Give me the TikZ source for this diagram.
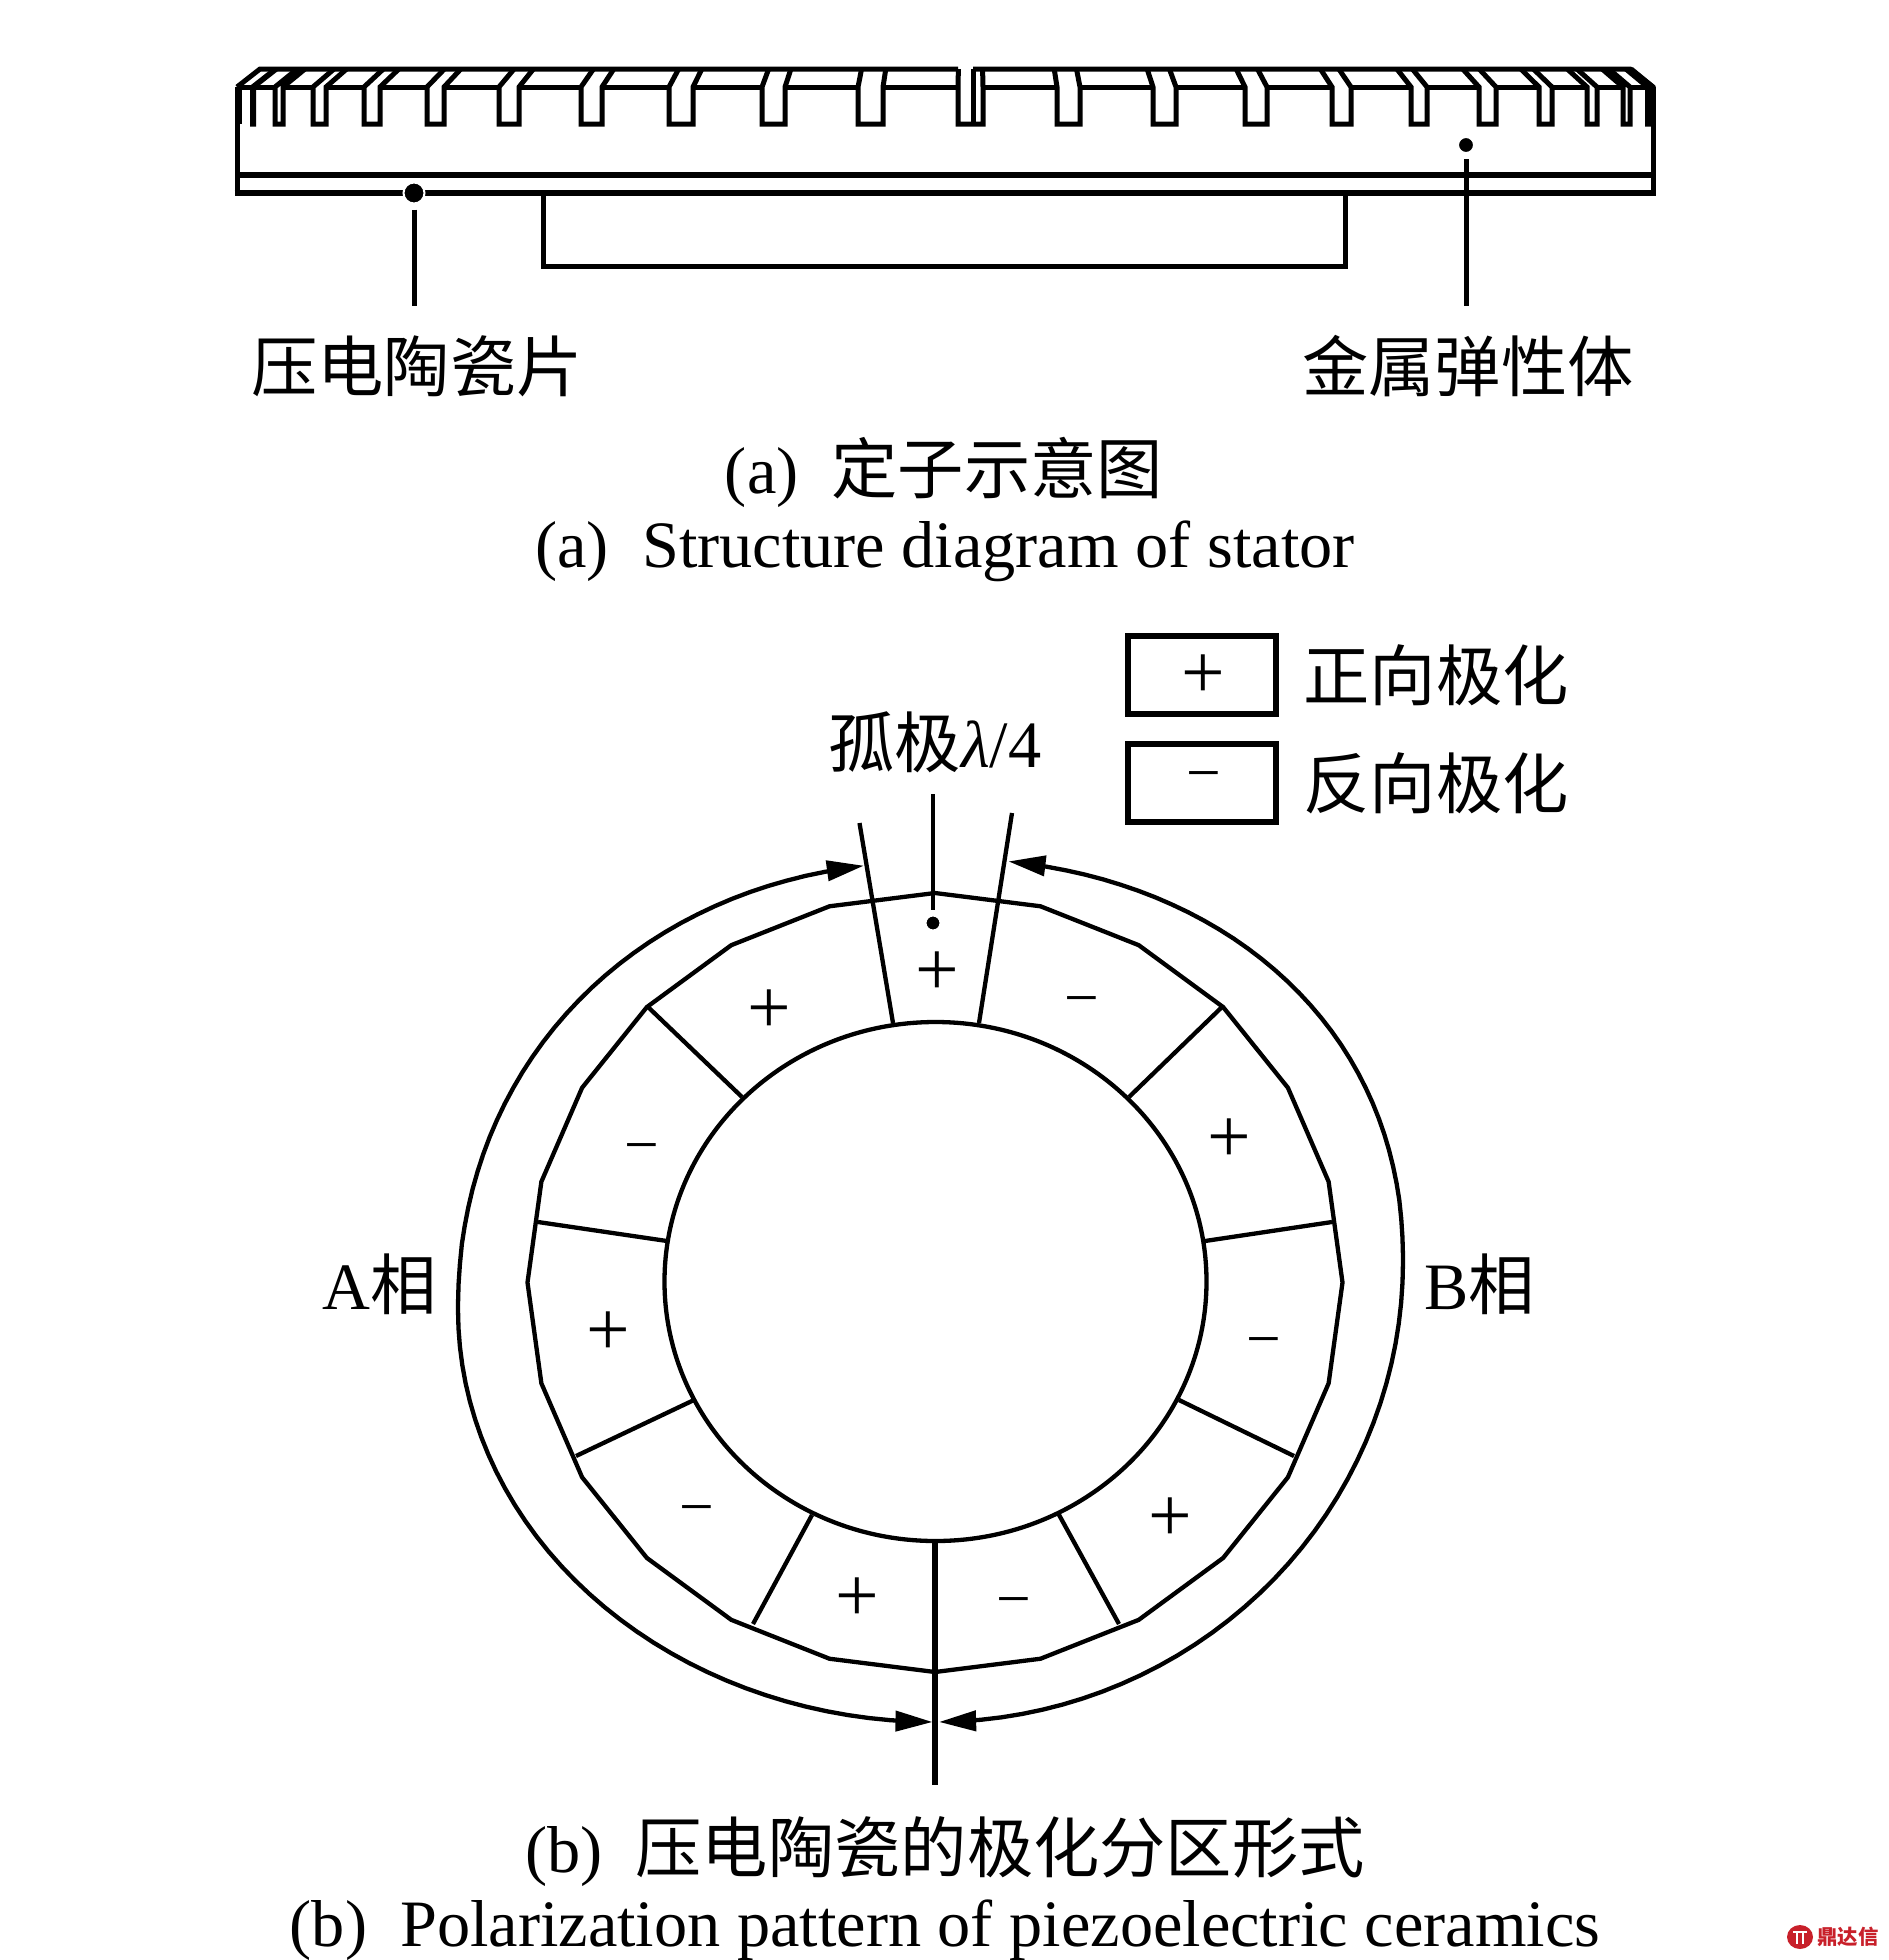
\documentclass[tikz,border=0pt]{standalone}
\usepackage{fontspec}
\usepackage{tikz}
\usetikzlibrary{calc}
\usetikzlibrary{arrows.meta}
\setmainfont{Liberation Serif}
\newfontfamily\cjk{Noto Sans CJK SC}
\newcommand{\cn}[1]{{\cjk #1}}
\definecolor{logored}{HTML}{C8202A}
\begin{document}
\begin{tikzpicture}[x=0.01cm,y=-0.01cm]

\def\lw{0.043cm}
\def\lwblk{0.05cm}
\def\lwbar{0.06cm}
\def\slant{0.032}
\def\xmid{970}

\tikzset{
thinline/.style = {color=black,line width=\lw},
blkline/.style = {color=black,line width=\lwblk},
barline/.style = {color=black,line width=\lwbar},
dimline/.style = {thinline,line join=round,{Triangle[length=0.37cm,width=0.2cm]}-{Triangle[length=0.37cm,width=0.2cm]}},
dot/.style = {circle,fill=black,draw=white,line width=0.02cm,inner sep=0pt},
label/.style = {inner sep=0pt,font=\fontsize{18.85}{20}\selectfont},
plussign/.style = {inner sep=0pt,anchor=base,font=\fontsize{22}{22}\selectfont},
minussign/.style = {inner sep=0pt,anchor=base,font=\fontsize{17.5}{18}\selectfont}
}

\useasboundingbox (0,0) rectangle (1889,1960);

% stator
\draw[blkline] (237,87) -- (1653,87);
\foreach \xa/\xb in {275/283,313/326,364/380,427/444,499/519,581/602,669/693,
762/785,858/883,958/983,1057/1080,1153/1176,1245/1267,1332/1351,1411/1427,1479/1496,
1539/1552,1587/1597,1623/1630}{
\pgfmathsetmacro{\ta}{\xa+\slant*(\xmid-\xa)}
\pgfmathsetmacro{\tb}{\xb+\slant*(\xmid-\xb)}
\filldraw[blkline,fill=white] (\ta,69) -- (\xa,87) -- (\xa,124) -- (\xb,124) -- (\xb,87) -- (\tb,69);
}
% the slots at both ends close up
\foreach \xa/\xb in {252.5/253.5,1647.5/1653}{
\pgfmathsetmacro{\ta}{\xa+\slant*(\xmid-\xa)}
\pgfmathsetmacro{\tb}{\xb+\slant*(\xmid-\xb)}
\filldraw[blkline,fill=black] (\ta,69) -- (\xa,87) -- (\xa,124) -- (\xb,124) -- (\xb,87) -- (\tb,69);
}
\draw[blkline] (239,87) -- (239,124);
\draw[blkline] (973,69) -- (973,124);
\draw[blkline] (237,87) -- (260,69) -- (958,69);
\draw[blkline] (973,69) -- (1630,69) -- (1653,87);
\draw[blkline] (237,87) -- (237,193);
\draw[blkline] (1653,87) -- (1653,193);
\draw[barline] (237,175) -- (1653,175);
\draw[barline] (234.5,193) -- (1655.5,193);
\draw[blkline] (543,193) -- (543,266) -- (1345,266) -- (1345,193);

\node[dot,minimum size=0.21cm] (ceramicdot) at (414,193) {};
\node[dot,minimum size=0.16cm] (metaldot) at (1466,145) {};
\coordinate (ceramicend) at (414,306);
\coordinate (metalend) at (1466,306);
\draw[blkline,shorten <=0.05cm] (ceramicdot) -- (ceramicend);
\draw[blkline,shorten <=0.05cm] (metaldot) -- (metalend);

\node[label] (ceramiclabel) at (417,366) {\cn{压电陶瓷片}};
\node[label] (metallabel) at (1468,366) {\cn{金属弹性体}};
\node[label] (capacn) at (944,472) {(a)\ \ \cn{定子示意图}};
\node[label] (capaen) at (945,551) {(a)\ \ Structure diagram of stator};

% legend
\node[draw,barline,minimum width=1.48cm,minimum height=0.78cm,inner sep=0pt] (plusbox) at (1202,675) {};
\node[draw,barline,minimum width=1.48cm,minimum height=0.78cm,inner sep=0pt] (minusbox) at (1202,783) {};
\node[plussign] (plusmark) at (1203,698) {+};
\node[minussign] (minusmark) at (1204,793) {−};
\node[label] (pluslabel) at (1436,675) {\cn{正向极化}};
\node[label] (minuslabel) at (1436,783) {\cn{反向极化}};
\node[label] (isolabel) at (935,742) {\cn{孤极}\textit{λ}/4};

% ring
\draw[thinline] (935.5,1281.5) ellipse [x radius=271,y radius=259.5];
\draw[thinline] plot[domain=0:345,samples=24] ({935+407.5*cos(\x)},{1282.5-389.5*sin(\x)}) -- cycle;

\draw[thinline] (859.5,823) -- (893,1023);
\draw[thinline] (1012,813) -- (979,1023);
\draw[thinline] (933,794) -- (933,910);
\node[dot,minimum size=0.15cm] (isodot) at (933,923) {};

\foreach \xa/\ya/\xb/\yb in {648/1007/742/1097,538/1222/667/1241,576/1456/694/1400,753/1624/812/1515,
1058/1513/1119/1624,1179/1400/1294/1456,1205/1241/1332/1222,1129/1097/1222/1007}{
\draw[thinline] (\xa,\ya) -- (\xb,\yb);
}
\draw[barline] (935,1541) -- (935,1785);

% A phase and B phase
\draw[dimline] plot[domain=89.7:0,samples=36] ({935-477*cos(\x)},{1310+412*sin(\x)})
-- plot[domain=0.5:82.4,samples=36] ({935-477*cos(\x)^0.95},{1310-448*sin(\x)^0.95});
\draw[dimline] plot[domain=89.5:0,samples=36] ({935+468*cos(\x)},{1262+460*sin(\x)})
-- plot[domain=0.5:82.3,samples=36] ({935+468*cos(\x)^0.93},{1262-404*sin(\x)^0.93});

\foreach \xa/\ya in {937/970,769/1008,608/1330,857/1596,1170/1516,1229/1137}{
\node[plussign] at (\xa,\ya+25.5) {+};
}
\foreach \xa/\ya in {1082/998,642/1145,697/1507,1014/1599,1264/1339}{
\node[minussign] at (\xa,\ya+20) {−};
}

\node[label] (alabel) at (380,1284) {A\cn{相}};
\node[label] (blabel) at (1480,1284) {B\cn{相}};
\node[label] (capbcn) at (945,1852) {(b)\ \ \cn{压电陶瓷的极化分区形式}};
\node[label] (capben) at (945,1930) {(b)\ \ Polarization pattern of piezoelectric ceramics};

% mark in the corner
\fill[logored] (1800,1937) ellipse [x radius=13,y radius=12];
\draw[white,line width=0.015cm] (1793,1932) -- (1807,1932) (1797,1932) -- (1797,1944) (1803,1932) -- (1803,1944);
\node[inner sep=0pt,text=logored,font=\fontsize{5.8}{6}\selectfont\bfseries] (marklabel) at (1848,1937) {\cn{\bfseries 鼎达信}};

\end{tikzpicture}
\end{document}
